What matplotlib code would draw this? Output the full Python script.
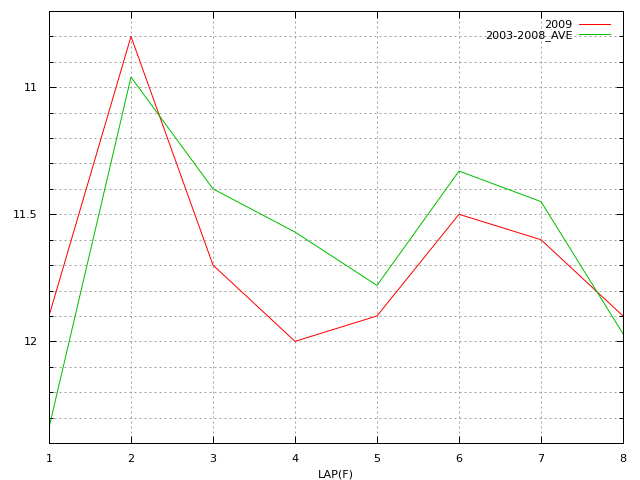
import numpy as np
import matplotlib
matplotlib.use('Agg')
import matplotlib.pyplot as plt
from matplotlib.ticker import MultipleLocator

# lap data
laps = [1, 2, 3, 4, 5, 6, 7, 8]
y2009 = [11.9, 10.8, 11.7, 12.0, 11.9, 11.5, 11.6, 11.9]
y_ave = [12.34, 10.96, 11.4, 11.57, 11.78, 11.33, 11.45, 11.97]

plt.rcParams['font.family'] = 'DejaVu Sans'
plt.rcParams['font.size'] = 8

px = 0.72  # one pixel at 100 dpi

fig = plt.figure(figsize=(6.4, 4.8), dpi=100)
ax = fig.add_axes([49 / 640, 1 - 443 / 480, (623 - 49) / 640, (443 - 11) / 480])

ax.plot(laps, y2009, color='#ff0000', lw=px, label='2009')
ax.plot(laps, y_ave, color='#00c000', lw=px, label='2003-2008_AVE')

ax.set_xlim(1, 8)
ax.set_ylim(12.4, 10.7)
ax.xaxis.set_major_locator(MultipleLocator(1))
ax.yaxis.set_major_locator(MultipleLocator(0.5))
ax.yaxis.set_minor_locator(MultipleLocator(0.1))
ax.yaxis.set_major_formatter(plt.FuncFormatter(lambda v, p: '%g' % v))

ax.grid(which='major', axis='x', color='#a0a0a0', ls=(0, (2, 3)), lw=px)
ax.grid(which='both', axis='y', color='#a0a0a0', ls=(0, (2, 3)), lw=px)

ax.tick_params(which='both', direction='in', top=True, right=True, width=px)
ax.tick_params(which='major', length=5, pad=8)
ax.tick_params(which='minor', length=3)
for s in ax.spines.values():
    s.set_linewidth(px)

ax.set_xlabel('LAP(F)', labelpad=4)

leg = ax.legend(loc='upper right', frameon=False, markerfirst=False, handlelength=2.8,
                handletextpad=0.6, borderaxespad=0.0, labelspacing=0.05,
                bbox_to_anchor=(0.985, 0.99))

fig.savefig('out.png', dpi=100)
